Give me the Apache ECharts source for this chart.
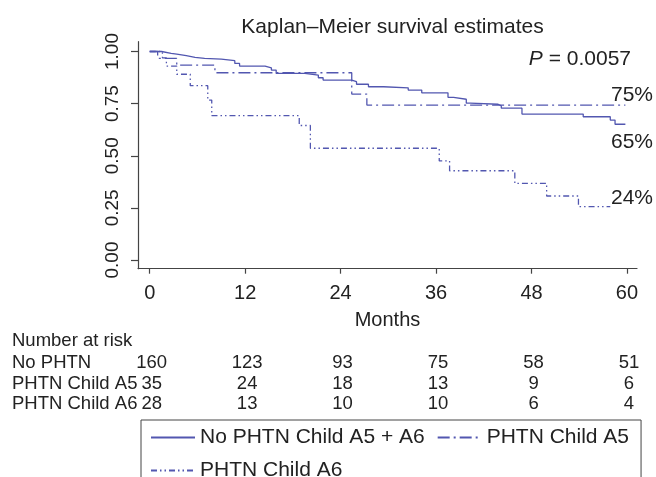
<!DOCTYPE html>
<html>
<head>
<meta charset="utf-8">
<script src="https://cdn.jsdelivr.net/npm/echarts@6/dist/echarts.min.js"></script>
<style>
html,body{margin:0;padding:0;background:#fff;}
#main{width:656px;height:477px;}
</style>
</head>
<body>
<div id="main"></div>
<script>
// ---- data ----
const seriesNames = ['No PHTN Child A5 + A6', 'PHTN Child A5', 'PHTN Child A6'];

const noPhtnTimes = [0, 1.5, 2.7, 3.4, 4.6, 5.7, 6.9, 9.0, 10.7, 11.3, 14.5, 15.3, 15.9, 19.5, 21.2, 21.8, 25.4, 26.0, 27.5, 29.4, 32.5, 34.2, 37.5, 38.2, 39.8, 40.3, 43.8, 44.2, 46.8, 54.5, 57.9, 58.5, 59.8];
const noPhtnSurv  = [1.0, 0.991, 0.987, 0.980, 0.972, 0.967, 0.963, 0.956, 0.943, 0.930, 0.922, 0.911, 0.895, 0.887, 0.874, 0.863, 0.855, 0.843, 0.831, 0.826, 0.815, 0.802, 0.780, 0.771, 0.752, 0.747, 0.739, 0.728, 0.700, 0.687, 0.671, 0.651, 0.651];

const a5Times = [0, 1.0, 3.4, 8.2, 25.4, 27.3, 59.8];
const a5Surv  = [1.0, 0.967, 0.935, 0.898, 0.796, 0.743, 0.743];

const a6Times = [0, 1.6, 2.1, 3.4, 5.1, 7.3, 7.8, 18.8, 20.2, 36.4, 37.7, 45.9, 49.9, 53.9, 57.9];
const a6Surv  = [1.0, 0.969, 0.930, 0.891, 0.836, 0.767, 0.692, 0.645, 0.536, 0.475, 0.428, 0.368, 0.307, 0.256, 0.256];

const xTicks = [0, 12, 24, 36, 48, 60];
const yTicks = [0, 0.25, 0.5, 0.75, 1];

const endLabels = ['75%', '65%', '24%'];
const pValueText = '0.0057';

const riskTitle = 'Number at risk';
const riskRowLabels = ['No PHTN', 'PHTN Child A5', 'PHTN Child A6'];
const riskNo = [160, 123, 93, 75, 58, 51];
const riskA5 = [35, 24, 18, 13, 9, 6];
const riskA6 = [28, 13, 10, 10, 6, 4];

// ---- chart ----
const FONT = '"Liberation Sans", Arial, Helvetica, sans-serif';
const LINE = '#5257b0';
const TXT = '#222';
const AX = '#444';

function pairs(t, s) { return t.map((v, i) => [v, s[i]]); }

const chart = echarts.init(document.getElementById('main'), null, {renderer: 'canvas', width: 656, height: 477});

const option = {
  animation: false,
  backgroundColor: '#ffffff',
  textStyle: {fontFamily: FONT},
  title: {
    text: 'Kaplan–Meier survival estimates',
    left: 387.5, textAlign: 'center', top: 12,
    textStyle: {fontSize: 21, fontWeight: 'normal', color: TXT, fontFamily: FONT}
  },
  grid: {left: 138, right: 19, top: 41.7, bottom: 208.3},
  xAxis: {
    type: 'value', min: -1.47, max: 61.26,
    name: 'Months', nameLocation: 'middle', nameGap: 42,
    nameTextStyle: {fontSize: 20, color: TXT, fontFamily: FONT},
    axisLine: {show: true, onZero: false, lineStyle: {color: AX, width: 1.2}},
    axisTick: {show: true, customValues: xTicks, length: 5, lineStyle: {color: AX, width: 1.2}},
    axisLabel: {customValues: xTicks, fontSize: 20, color: TXT, margin: 15, fontFamily: FONT},
    splitLine: {show: false}
  },
  yAxis: {
    type: 'value', min: -0.0417, max: 1.047,
    axisLine: {show: true, onZero: false, lineStyle: {color: AX, width: 1.2}},
    axisTick: {show: true, customValues: yTicks, length: 7, lineStyle: {color: AX, width: 1.2}},
    axisLabel: {customValues: yTicks, rotate: 90, fontSize: 19, color: TXT, margin: 16, fontFamily: FONT,
      formatter: v => v.toFixed(2)},
    splitLine: {show: false}
  },
  legend: {
    data: seriesNames,
    left: 141, top: 420, width: 486,
    padding: [7, 12, 8, 9],
    itemGap: 12, itemWidth: 44, itemHeight: 12,
    borderColor: '#444', borderWidth: 1, borderRadius: 0,
    itemStyle: {opacity: 0},
    textStyle: {fontSize: 21, color: TXT, fontFamily: FONT, lineHeight: 15}
  },
  series: [
    {name: seriesNames[0], type: 'line', step: 'end', symbol: 'none',
     data: pairs(noPhtnTimes, noPhtnSurv),
     lineStyle: {color: LINE, width: 1.3, type: 'solid'}, itemStyle: {color: LINE}},
    {name: seriesNames[1], type: 'line', step: 'end', symbol: 'none',
     data: pairs(a5Times, a5Surv),
     lineStyle: {color: LINE, width: 1.3, type: [12, 4, 2, 4]}, itemStyle: {color: LINE}},
    {name: seriesNames[2], type: 'line', step: 'end', symbol: 'none',
     data: pairs(a6Times, a6Surv),
     lineStyle: {color: LINE, width: 1.3, type: [6, 3, 1.5, 3, 1.5, 3]}, itemStyle: {color: LINE}}
  ]
};
chart.setOption(option);

// ---- annotations and number-at-risk table ----
const g = [];
function txt(text, x, y, align, size, extra) {
  g.push({type: 'text', silent: true, x: x, y: y,
    style: Object.assign({text: text, fill: TXT, fontSize: size || 19, fontFamily: FONT,
      align: align || 'left', verticalAlign: 'middle'}, extra || {})});
}
// P value
g.push({type: 'text', silent: true, x: 631, y: 59,
  style: {text: '{i|P} = ' + pValueText, fill: TXT, fontSize: 21, fontFamily: FONT,
    align: 'right', verticalAlign: 'middle',
    rich: {i: {fontStyle: 'italic', fontSize: 21, fontFamily: FONT, fill: TXT}}}});
// end percentages
txt(endLabels[0], 611, 95, 'left', 21);
txt(endLabels[1], 611, 142, 'left', 21);
txt(endLabels[2], 611, 198, 'left', 21);

// risk table
const rowY = [363, 384, 404];
txt(riskTitle, 12, 341, 'left', 18.5);
const rows = [riskNo, riskA5, riskA6];
rows.forEach((vals, r) => {
  txt(riskRowLabels[r], 12, rowY[r], 'left', 18.5);
  vals.forEach((v, i) => {
    const px = chart.convertToPixel({xAxisIndex: 0}, xTicks[i]);
    txt(String(v), px + 2, rowY[r], 'center', 18.5);
  });
});
chart.setOption({graphic: {elements: g}});
</script>
</body>
</html>
